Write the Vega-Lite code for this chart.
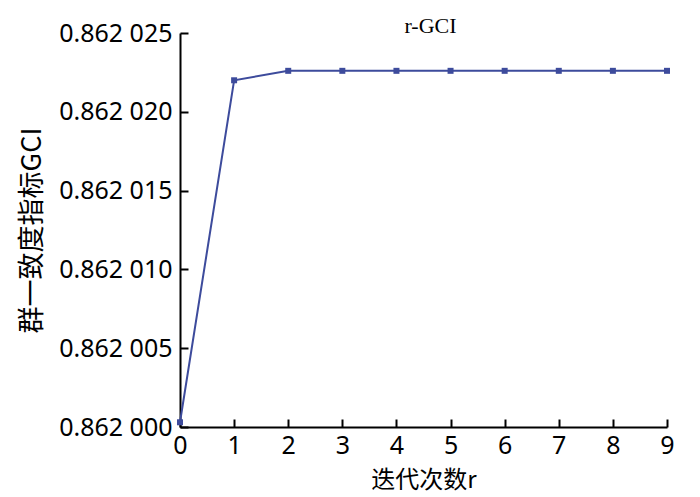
{
  "$schema": "https://vega.github.io/schema/vega-lite/v6.json",
  "autosize": "none",
  "width": 487,
  "height": 394,
  "padding": {"left": 180, "top": 33, "right": 33, "bottom": 70},
  "background": "white",
  "title": {"text": "r-GCI", "font": "Liberation Serif", "fontSize": 22, "fontWeight": "normal", "color": "#000", "offset": -17, "dx": 7},
  "config": {"view": {"stroke": null}},
  "data": {"values": [
    {"r": 0, "gci": 0.8620003},
    {"r": 1, "gci": 0.862022},
    {"r": 2, "gci": 0.8620226},
    {"r": 3, "gci": 0.8620226},
    {"r": 4, "gci": 0.8620226},
    {"r": 5, "gci": 0.8620226},
    {"r": 6, "gci": 0.8620226},
    {"r": 7, "gci": 0.8620226},
    {"r": 8, "gci": 0.8620226},
    {"r": 9, "gci": 0.8620226}
  ]},
  "mark": {"type": "line", "color": "#3d4b9c", "strokeWidth": 2, "point": {"shape": "square", "size": 36, "filled": true, "color": "#3d4b9c"}},
  "encoding": {
    "x": {"field": "r", "type": "quantitative",
      "scale": {"domain": [0, 9], "nice": false, "zero": false},
      "axis": {"title": "迭代次数r", "values": [0,1,2,3,4,5,6,7,8,9], "format": "d", "grid": false,
        "domainColor": "#000", "domainWidth": 2, "tickColor": "#000", "tickWidth": 2, "tickSize": -8,
        "labelFont": "Noto Sans", "labelFontSize": 25, "labelColor": "#000", "labelPadding": 14, "labelFlush": false,
        "titleFont": "Noto Sans CJK SC", "titleFontSize": 24, "titleFontWeight": "normal", "titleColor": "#000", "titlePadding": 10}},
    "y": {"field": "gci", "type": "quantitative",
      "scale": {"domain": [0.862, 0.862025], "nice": false, "zero": false},
      "axis": {"title": "群一致度指标GCI", "values": [0.862, 0.862005, 0.86201, 0.862015, 0.86202, 0.862025], "grid": false,
        "labelExpr": "substring(format(datum.value, '.6f'), 0, 5) + ' ' + substring(format(datum.value, '.6f'), 5)",
        "domainColor": "#000", "domainWidth": 2, "tickColor": "#000", "tickWidth": 2, "tickSize": -8,
        "labelFont": "Noto Sans", "labelFontSize": 25, "labelColor": "#000", "labelPadding": 16, "labelFlush": false,
        "titleFont": "Noto Sans CJK SC", "titleFontSize": 27, "titleFontWeight": "normal", "titleColor": "#000", "titlePadding": 12}}
  }
}
